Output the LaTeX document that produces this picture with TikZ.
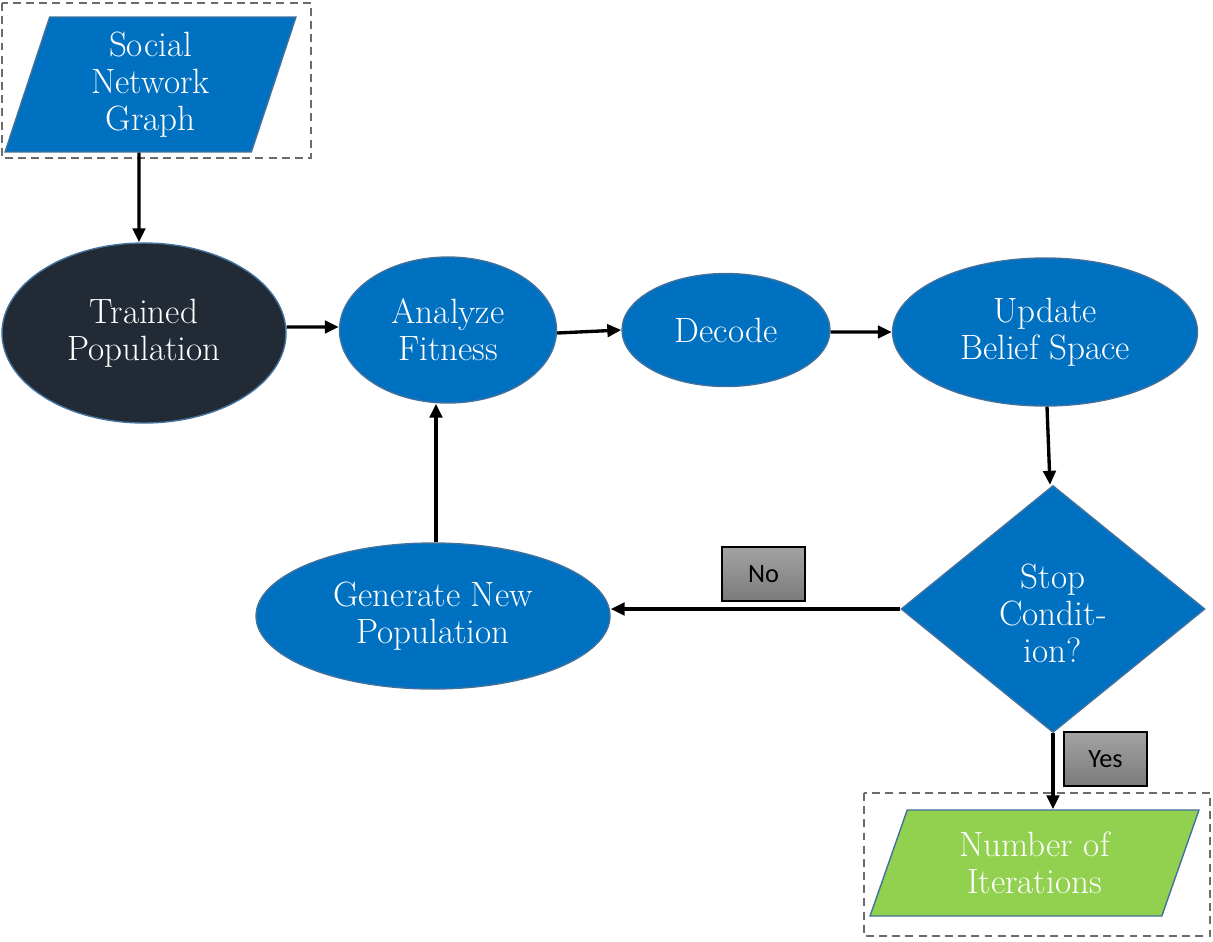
\documentclass[tikz,border=0pt]{standalone}
\usepackage{xcolor}
\usepackage{fontspec}
\usepackage{tikz}
\usetikzlibrary{arrows.meta,shapes.geometric}
\newfontfamily\lblfont{Carlito}
\definecolor{stepblue}{HTML}{0070C0}
\definecolor{edgeblue}{HTML}{41719C}
\definecolor{darknode}{HTML}{222A35}
\definecolor{outgreen}{HTML}{92D050}

\begin{document}
\begin{tikzpicture}[x=0.02cm,y=-0.02cm,->,>={Triangle[length=0.28cm,width=0.25cm]},line width=1.9pt,
    main node/.style={ellipse,draw=edgeblue,line width=0.8pt,fill=stepblue,text=white,inner sep=0pt,align=center,font=\fontsize{20}{21}\selectfont},
    io node/.style={trapezium,trapezium stretches body,draw=edgeblue,line width=0.8pt,fill=stepblue,text=white,inner sep=0pt,align=center,font=\fontsize{20}{21}\selectfont},
    tag node/.style={draw=black,line width=0.6pt,top color=black!36,bottom color=black!52,minimum width=1.66cm,minimum height=1.08cm,font=\lblfont\fontsize{15}{18}\selectfont},
    frame/.style={draw=black!58,line width=1.4pt,dash pattern=on 4.5pt off 3pt,-}]
    \useasboundingbox (0,0) rectangle (1213,941);
    \draw[frame] (2,3) rectangle (311,158);
    \draw[frame] (864,793) rectangle (1210,936);
    \node[io node,trapezium left angle=67,trapezium right angle=113,minimum width=5.82cm,minimum height=2.7cm] (sng) at (150.5,84.5) {Social\\Network\\Graph};
    \node[main node,fill=darknode,minimum width=5.68cm,minimum height=3.6cm] (tp) at (144,333) {Trained\\Population};
    \node[main node,minimum width=4.34cm,minimum height=2.92cm] (af) at (448,330) {Analyze\\Fitness};
    \node[main node,minimum width=4.16cm,minimum height=2.26cm] (dec) at (726,330) {Decode};
    \node[main node,minimum width=6.1cm,minimum height=2.96cm] (ubs) at (1045,332) {Update\\Belief Space};
    \node[main node,diamond,minimum width=6.08cm,minimum height=4.94cm,text height=2.14cm] (sc) at (1053,609) {Stop\\Condit-\\ion?};
    \node[main node,minimum width=7.08cm,minimum height=2.92cm] (gnp) at (433,616) {Generate New\\Population};
    \node[io node,fill=outgreen,trapezium left angle=59,trapezium right angle=121,minimum width=6.58cm,minimum height=2.12cm] (nit) at (1034.5,863) {Number of\\Iterations};
    \node[tag node] (no) at (763.5,574) {No};
    \node[tag node] (yes) at (1105.5,759) {Yes};
    \draw ([xshift=-0.23cm]sng.south) -- ([xshift=-0.1cm]tp.north);
    \draw ([yshift=0.12cm]tp.east) -- ([yshift=0.06cm]af.west);
    \draw ([yshift=-0.06cm]af.east) -- (dec.west);
    \draw ([yshift=-0.04cm]dec.east) -- (ubs.west);
    \draw ([xshift=0.04cm]ubs.south) -- ([xshift=-0.06cm]sc.north);
    \draw (sc.west) -- (sc.west -| gnp.east);
    \draw ([xshift=0.06cm]gnp.north) -- ([xshift=0.06cm]gnp.north |- af.south);
    \draw (sc.south) -- (sc.south |- nit.north);
  \end{tikzpicture}
\end{document}
